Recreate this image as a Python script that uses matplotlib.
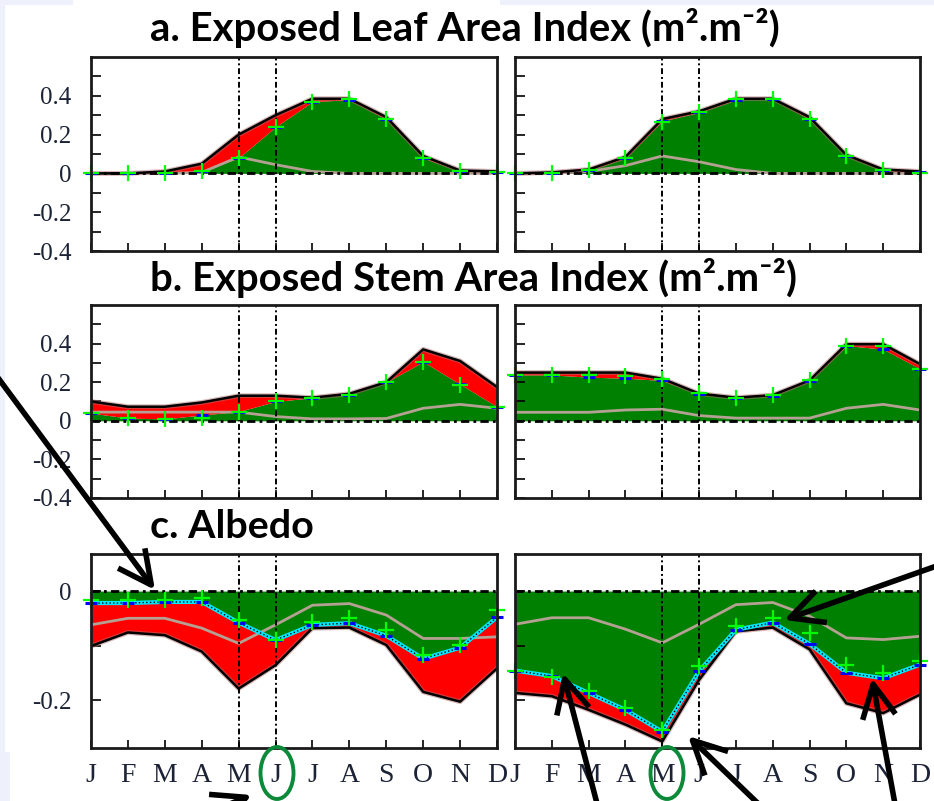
import matplotlib
matplotlib.use('Agg')
import matplotlib.pyplot as plt
import numpy as np
from matplotlib.patches import FancyArrowPatch, Ellipse, Rectangle

plt.rcParams['axes.unicode_minus'] = False

# ---------------- data ----------------
months = ['J', 'F', 'M', 'A', 'M', 'J', 'J', 'A', 'S', 'O', 'N', 'D']

# a. Exposed Leaf Area Index
a_left_total = [0.0, 0.0, 0.01, 0.05, 0.20, 0.30, 0.385, 0.385, 0.29, 0.09, 0.015, 0.01]
a_left_base = [0.0, 0.0, 0.0, 0.01, 0.08, 0.24, 0.37, 0.38, 0.28, 0.08, 0.012, 0.008]
a_left_marks = [0.0, 0.0, 0.0, 0.01, 0.077, 0.238, 0.366, 0.383, 0.28, 0.077, 0.012, 0.005]
a_left_gray = [0.0, 0.0, 0.0, 0.005, 0.085, 0.045, 0.01, 0.0, 0.0, 0.0, 0.0, 0.0]

a_right_total = [0.0, 0.005, 0.02, 0.085, 0.28, 0.32, 0.385, 0.385, 0.29, 0.095, 0.02, 0.01]
a_right_base = [0.0, 0.0, 0.015, 0.08, 0.27, 0.315, 0.38, 0.383, 0.28, 0.09, 0.015, 0.005]
a_right_marks = [0.0, 0.0, 0.017, 0.077, 0.267, 0.315, 0.383, 0.386, 0.28, 0.09, 0.017, 0.0]
a_right_gray = [0.0, 0.0, 0.01, 0.04, 0.09, 0.06, 0.02, 0.0, 0.0, 0.0, 0.0, 0.0]

# b. Exposed Stem Area Index
b_left_total = [0.10, 0.073, 0.073, 0.095, 0.13, 0.13, 0.12, 0.14, 0.20, 0.37, 0.31, 0.175]
b_left_base = [0.04, 0.014, 0.01, 0.03, 0.048, 0.10, 0.12, 0.136, 0.20, 0.306, 0.19, 0.073]
b_left_marks = [0.04, 0.017, 0.01, 0.017, 0.044, 0.10, 0.12, 0.133, 0.20, 0.306, 0.187, 0.073]
b_left_gray = [0.045, 0.045, 0.045, 0.045, 0.045, 0.022, 0.01, 0.01, 0.012, 0.065, 0.085, 0.065]

b_right_total = [0.25, 0.25, 0.25, 0.25, 0.218, 0.141, 0.12, 0.133, 0.209, 0.397, 0.397, 0.294]
b_right_base = [0.238, 0.238, 0.226, 0.221, 0.209, 0.14, 0.12, 0.13, 0.205, 0.39, 0.371, 0.27]
b_right_marks = [0.238, 0.238, 0.238, 0.232, 0.218, 0.145, 0.12, 0.133, 0.21, 0.39, 0.39, 0.27]
b_right_gray = [0.044, 0.044, 0.044, 0.056, 0.06, 0.027, 0.014, 0.014, 0.014, 0.065, 0.085, 0.056]

# c. Albedo
c_left_total = [-0.101, -0.076, -0.081, -0.111, -0.179, -0.136, -0.068, -0.067, -0.099, -0.185, -0.203, -0.142]
c_left_base = [-0.022, -0.022, -0.02, -0.02, -0.058, -0.09, -0.062, -0.059, -0.082, -0.124, -0.104, -0.048]
c_left_marks = [-0.017, -0.017, -0.017, -0.013, -0.053, -0.09, -0.056, -0.05, -0.072, -0.117, -0.099, -0.035]
c_left_gray = [-0.062, -0.05, -0.05, -0.068, -0.096, -0.062, -0.026, -0.023, -0.044, -0.087, -0.087, -0.084]

c_right_total = [-0.187, -0.193, -0.218, -0.245, -0.276, -0.163, -0.074, -0.067, -0.107, -0.206, -0.224, -0.19]
c_right_base = [-0.146, -0.156, -0.187, -0.218, -0.258, -0.147, -0.071, -0.058, -0.097, -0.15, -0.16, -0.135]
c_right_marks = [-0.146, -0.157, -0.184, -0.215, -0.255, -0.138, -0.064, -0.049, -0.077, -0.135, -0.15, -0.129]
c_right_gray = [-0.061, -0.049, -0.049, -0.07, -0.095, -0.061, -0.025, -0.021, -0.046, -0.086, -0.089, -0.083]

titles = ['a. Exposed Leaf Area Index (m\u00b2.m\u207b\u00b2)',
          'b. Exposed Stem Area Index (m\u00b2.m\u207b\u00b2)',
          'c. Albedo']

# ---------------- style ----------------
W, H = 934, 801
GREEN = '#008000'
RED = '#ff0000'
GRAY = '#b5a193'
LIME = '#00ff00'
TXT = '#1c2336'
LAV = '#eef1fb'
SERIF = 'Liberation Serif'

fig = plt.figure(figsize=(W / 100, H / 100), dpi=100)
fig.patch.set_facecolor('white')


def fx(px):
    return px / W


def fy(py):
    return 1 - py / H


# light background strips of the slide
for (x0, y0, x1, y1) in [(0, 0, 5, 801), (0, 0, 73, 5), (500, 0, 934, 5), (0, 752, 10, 801)]:
    fig.add_artist(Rectangle((fx(x0), fy(y1)), (x1 - x0) / W, (y1 - y0) / H,
                             transform=fig.transFigure, facecolor=LAV, edgecolor='none', zorder=0))

cols = [(91, 497), (515, 920)]
rows = [(57, 251), (305, 498), (554, 748)]

panels = [
    [(a_left_total, a_left_base, a_left_marks, a_left_gray),
     (a_right_total, a_right_base, a_right_marks, a_right_gray)],
    [(b_left_total, b_left_base, b_left_marks, b_left_gray),
     (b_right_total, b_right_base, b_right_marks, b_right_gray)],
    [(c_left_total, c_left_base, c_left_marks, c_left_gray),
     (c_right_total, c_right_base, c_right_marks, c_right_gray)],
]

x = np.arange(len(months))


def fmt(v):
    return '0' if abs(v) < 1e-9 else f'{v:.1f}'


for r, (y0, y1) in enumerate(rows):
    for c, (x0, x1) in enumerate(cols):
        ax = fig.add_axes([fx(x0), fy(y1), (x1 - x0) / W, (y1 - y0) / H])
        total, base, marks, gray = panels[r][c]
        ax.fill_between(x, 0, base, color=GREEN, lw=0, zorder=1)
        ax.fill_between(x, base, total, color=RED, lw=0, zorder=1)
        ax.plot(x, gray, color=GRAY, lw=2, zorder=2)
        ax.plot(x, total, color='#b07070', lw=3.5, alpha=0.5, zorder=2.5)
        ax.plot(x, total, color='black', lw=1.8, zorder=3)
        for xv in (4, 5):
            ax.axvline(xv, color='black', lw=1.4, ls=(0, (3, 1.5, 1, 1.5)), zorder=4)
        ax.axhline(0, color='black', lw=2, ls=(0, (3, 1.5, 1, 1.5)), zorder=4)
        if r == 2:
            ax.plot(x, base, color='#00e8ff', lw=3, zorder=4.5)
            ax.plot(x, base, color='black', lw=1, ls=':', zorder=4.6)
        ax.plot(x, base, ls='none', marker='_', color='#0000ff', ms=8, mew=2.2,
                clip_on=False, zorder=5)
        ax.plot(x, marks, ls='none', marker='+', color=LIME, ms=11, mew=1.6,
                clip_on=False, zorder=6)

        ax.set_xlim(0, 11)
        if r < 2:
            ax.set_ylim(-0.4, 0.6)
            major = [-0.4, -0.2, 0.0, 0.2, 0.4]
            minor = [-0.3, -0.1, 0.1, 0.3, 0.5]
        else:
            ax.set_ylim(-0.288, 0.068)
            major = [-0.2, 0.0]
            minor = [-0.1]
        ax.set_yticks(major)
        ax.set_yticks(minor, minor=True)
        ax.set_xticks(x)
        ax.tick_params(axis='both', which='both', direction='in', top=False, right=False,
                       width=1.2, colors='black')
        ax.tick_params(axis='y', which='major', length=7, pad=14)
        ax.tick_params(axis='y', which='minor', length=7)
        ax.tick_params(axis='x', which='major', length=6, pad=11)
        if c == 0:
            ax.set_yticklabels([fmt(v) for v in major], fontsize=18, family=SERIF, color=TXT)
        else:
            ax.set_yticklabels([])
        if r == 2:
            ax.set_xticklabels(months, fontsize=20, family=SERIF, color=TXT)
        else:
            ax.set_xticklabels([])
        for sp in ax.spines.values():
            sp.set_linewidth(2)
            sp.set_color('#1a1a1a')
            sp.set_zorder(7)

# ---------------- titles ----------------
title_specs = [(150, 41, 628), (150, 291, 645), (150, 538, 163)]
ttexts = []
for t, (tx, ty, tw) in zip(titles, title_specs):
    tt = fig.text(fx(tx), fy(ty), t, ha='left', va='baseline', fontsize=24,
                  fontweight='bold', family=['Lato', 'DejaVu Sans'], color='black', zorder=10)
    ttexts.append((tt, tw))
fig.canvas.draw()
renderer = fig.canvas.get_renderer()
for tt, tw in ttexts:
    bb = tt.get_window_extent(renderer)
    tt.set_fontsize(tt.get_fontsize() * tw / bb.width)

# ---------------- annotations ----------------
arrows = [((-10, 367), (155, 590)), ((210, 812), (252, 795)), ((945, 563), (784, 620)),
          ((600, 815), (563, 673)), ((770, 815), (688, 736)), ((897, 815), (872, 678))]
for (p0, p1) in arrows:
    arr = FancyArrowPatch((fx(p0[0]), fy(p0[1])), (fx(p1[0]), fy(p1[1])),
                          transform=fig.transFigure, arrowstyle='->,head_length=1.0,head_width=0.5',
                          mutation_scale=24, lw=4, color='black', zorder=20,
                          shrinkA=0, shrinkB=0, capstyle='butt')
    fig.add_artist(arr)

for (cx, cy) in [(277, 773), (667, 773)]:
    fig.add_artist(Ellipse((fx(cx), fy(cy)), 33 / W, 52 / H, transform=fig.transFigure,
                           facecolor='none', edgecolor='#0c8a3a', lw=2.8, zorder=21))

fig.savefig('out.png', dpi=100, facecolor=fig.get_facecolor())
